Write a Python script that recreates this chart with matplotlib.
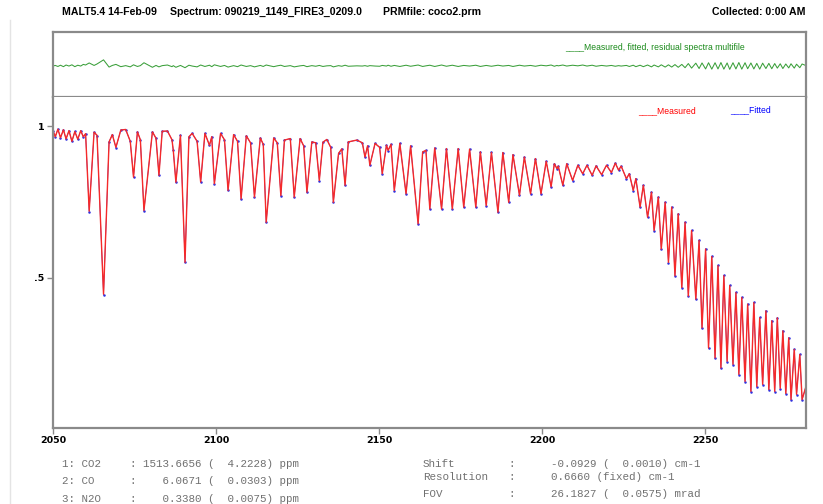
import numpy as np
import matplotlib
matplotlib.use('Agg')
import matplotlib.pyplot as plt
from matplotlib.lines import Line2D

# spectrum trace: wavenumber (cm-1) and transmission
wavenumber = [2050.0, 2050.7, 2051.5, 2052.3, 2053.2, 2054.0, 2054.9, 2055.8, 2056.7, 2057.6,
              2058.5, 2059.3, 2060.0, 2061.1, 2062.6, 2063.5, 2065.5, 2067.2, 2068.2, 2069.3,
              2070.8, 2072.3, 2073.7, 2074.7, 2075.9, 2076.8, 2077.9, 2080.5, 2081.6, 2082.5,
              2083.5, 2085.1, 2086.5, 2086.9, 2087.7, 2089.1, 2090.5, 2091.7, 2092.7, 2094.2,
              2095.3, 2096.6, 2098.0, 2098.7, 2099.5, 2101.4, 2102.6, 2103.7, 2105.4, 2106.6,
              2107.7, 2109.3, 2110.6, 2111.8, 2113.6, 2114.5, 2115.4, 2117.7, 2118.8, 2119.9,
              2121.0, 2122.8, 2124.0, 2125.8, 2126.9, 2127.9, 2129.4, 2130.6, 2131.7, 2132.8,
              2134.0, 2135.2, 2136.0, 2137.6, 2138.6, 2139.6, 2140.6, 2143.2, 2144.9, 2145.7,
              2146.5, 2147.2, 2148.8, 2150.2, 2151.0, 2152.3, 2152.8, 2153.7, 2154.7, 2156.4,
              2158.3, 2159.7, 2162.0, 2163.4, 2164.4, 2165.6, 2167.1, 2169.2, 2170.7, 2172.5,
              2174.3, 2176.0, 2177.8, 2179.7, 2181.1, 2182.9, 2184.5, 2186.5, 2188.0, 2189.8,
              2191.1, 2193.1, 2194.6, 2196.5, 2198.0, 2199.7, 2201.3, 2202.8, 2203.8, 2204.6,
              2205.0, 2206.4, 2207.6, 2209.4, 2211.0, 2212.5, 2213.8, 2215.4, 2216.6, 2218.3,
              2219.8, 2221.3, 2222.5, 2223.5, 2224.3, 2225.9, 2226.8, 2228.0, 2228.8, 2230.1,
              2231.1, 2232.4, 2233.6, 2234.4, 2235.7, 2236.6, 2237.8, 2238.8, 2239.8, 2240.8,
              2241.8, 2242.9, 2243.9, 2244.9, 2245.9, 2247.2, 2248.2, 2249.1, 2250.2, 2251.1,
              2252.1, 2253.1, 2254.0, 2254.9, 2255.8, 2256.8, 2257.6, 2258.6, 2259.5, 2260.4,
              2261.3, 2262.3, 2263.1, 2264.1, 2265.0, 2265.9, 2266.8, 2267.7, 2268.7, 2269.6,
              2270.5, 2271.4, 2272.2, 2273.1, 2273.9, 2274.8, 2275.7, 2276.4, 2277.4, 2278.1,
              2279.1, 2279.8, 2281.0]

measured = [0.985, 0.965, 0.990, 0.962, 0.988, 0.958, 0.985, 0.950, 0.982, 0.957,
            0.985, 0.965, 0.975, 0.720, 0.980, 0.970, 0.446, 0.948, 0.972, 0.930,
            0.987, 0.989, 0.950, 0.832, 0.981, 0.955, 0.722, 0.981, 0.960, 0.838,
            0.983, 0.984, 0.955, 0.920, 0.815, 0.970, 0.551, 0.965, 0.976, 0.950,
            0.816, 0.976, 0.937, 0.965, 0.810, 0.976, 0.955, 0.788, 0.972, 0.950,
            0.760, 0.968, 0.945, 0.766, 0.961, 0.940, 0.683, 0.961, 0.945, 0.771,
            0.954, 0.959, 0.766, 0.959, 0.935, 0.782, 0.948, 0.945, 0.821, 0.947,
            0.956, 0.930, 0.749, 0.910, 0.925, 0.805, 0.948, 0.954, 0.945, 0.898,
            0.935, 0.871, 0.943, 0.930, 0.843, 0.937, 0.920, 0.940, 0.788, 0.943,
            0.777, 0.935, 0.678, 0.915, 0.920, 0.727, 0.928, 0.727, 0.926, 0.727,
            0.926, 0.733, 0.924, 0.733, 0.915, 0.738, 0.913, 0.716, 0.913, 0.749,
            0.906, 0.772, 0.898, 0.777, 0.893, 0.777, 0.884, 0.800, 0.876, 0.860,
            0.868, 0.805, 0.876, 0.821, 0.871, 0.843, 0.871, 0.838, 0.869, 0.840,
            0.871, 0.847, 0.878, 0.855, 0.868, 0.827, 0.843, 0.788, 0.827, 0.733,
            0.805, 0.700, 0.782, 0.656, 0.766, 0.595, 0.749, 0.551, 0.733, 0.507,
            0.711, 0.468, 0.683, 0.440, 0.656, 0.430, 0.623, 0.335, 0.595, 0.269,
            0.570, 0.236, 0.540, 0.203, 0.507, 0.225, 0.474, 0.215, 0.451, 0.182,
            0.435, 0.159, 0.413, 0.126, 0.418, 0.142, 0.368, 0.149, 0.391, 0.132,
            0.358, 0.126, 0.368, 0.136, 0.325, 0.119, 0.302, 0.099, 0.264, 0.116,
            0.247, 0.099, 0.142]

# residual (measured - fitted), in units of 1e-3
residual = [0, 0.3, -0.2, 0.4, -0.3, 0.5, 0, 0.6, -0.3, 0.4,
            0, 0.8, 0.5, 1.5, 0.3, 1.0, 3.0, -0.5, 0.3, 0.8,
            -0.3, 0.2, -0.4, 0.6, -0.2, 0.2, 1.6, -0.6, 0.3, -0.4,
            0.2, 0.5, -0.3, 0.2, -0.6, 0.3, -0.8, 0.4, 0, -0.4,
            0.5, -0.2, 0.4, -0.3, 0.6, -0.2, 0.3, -0.5, 0.2, -0.3,
            0.5, -0.2, 0.2, -0.4, 0.3, -0.2, 0.5, -0.3, 0.1, 0.4,
            -0.2, 0.2, -0.4, 0.1, 0.3, -0.3, 0.2, -0.1, 0.3, -0.2,
            0.1, 0.2, -0.4, 0.2, -0.1, 0.4, -0.1, 0.1, 0, 0.2,
            -0.1, 0.2, 0, -0.1, 0.3, 0, 0.4, -0.1, 0.3, -0.2,
            0.4, -0.1, 0.5, -0.2, 0.1, 0.4, -0.2, 0.5, -0.1, 0.4,
            -0.2, 0.3, 0, 0.4, -0.2, 0.3, -0.1, 0.4, 0, 0.3,
            -0.2, 0.4, 0, 0.3, -0.1, 0.4, 0.1, 0.5, -0.1, 0.3,
            0.1, 0.5, 0, 0.4, 0.1, 0.5, 0, 0.4, -0.1, 0.3,
            0, 0.3, -0.1, 0.2, 0, 0.3, -0.2, 0.4, -0.3, 0.4,
            -0.3, 0.5, -0.4, 0.5, -0.4, 0.6, -0.5, 0.6, -0.5, 0.7,
            -0.6, 0.8, -0.8, 1.2, -1.0, 1.4, -1.2, 1.5, -1.4, 1.6,
            -1.5, 1.6, -1.4, 1.7, -1.5, 1.5, -1.6, 1.6, -1.4, 1.7,
            -1.5, 1.6, -1.3, 1.5, -1.4, 1.3, -1.5, 1.4, -1.2, 1.3,
            -1.3, 1.2, -1.0, 1.1, -1.2, 1.0, -0.9, 1.1, -1.0, 0.9,
            -0.8, 1.0, 0.2]

x_ticks = [2050, 2100, 2150, 2200, 2250]
y_ticks = [0.5, 1.0]
y_ticklabels = ['.5', '1']

header = ['MALT5.4 14-Feb-09', 'Spectrum: 090219_1149_FIRE3_0209.0',
          'PRMfile: coco2.prm', 'Collected: 0:00 AM']
gas_names = ['1: CO2', '2: CO', '3: N2O']
gas_values = [': 1513.6656 (  4.2228) ppm', ':    6.0671 (  0.0303) ppm',
              ':    0.3380 (  0.0075) ppm']
param_names = ['Shift', 'Resolution', 'FOV']
param_values = ['-0.0929 (  0.0010) cm-1', '0.6660 (fixed) cm-1',
                '26.1827 (  0.0575) mrad']

wn = np.array(wavenumber)
meas = np.array(measured)
res = np.array(residual) * 1e-3
fitted = meas - res

W, H = 823, 504
sans = 'Liberation Sans'
grey = '#8a8a8a'

fig = plt.figure(figsize=(W / 100, H / 100), dpi=100)

# residual panel
ax_res = fig.add_axes([53 / W, 1 - 97 / H, 753 / W, 65 / H])
ax_res.plot(wn, res, color='#3a9f3a', lw=0.75)
ax_res.set_xlim(2050, 2281)
ax_res.set_ylim(-0.015, 0.0165)
ax_res.set_xticks([])
ax_res.set_yticks([])
for s in ax_res.spines.values():
    s.set_color(grey)
    s.set_linewidth(1.6)
ax_res.text(0.68, 0.72, '____Measured, fitted, residual spectra multifile',
            transform=ax_res.transAxes, color='#1a8a1a', fontsize=6.2, family=sans)

# main spectrum panel: fitted points underneath, measured line on top
ax = fig.add_axes([53 / W, 1 - 428 / H, 753 / W, 331 / H])
ax.plot(wn, fitted, color='#3030e0', lw=0.5, marker='o', ms=1.8, mew=0)
ax.plot(wn, meas, color='#f52a2a', lw=1.0)
ax.set_xlim(2050, 2281)
ax.set_ylim(0.005, 1.096)
ax.set_xticks(x_ticks)
ax.set_xticklabels([str(t) for t in x_ticks], fontsize=6.8, fontweight='bold')
ax.set_yticks(y_ticks)
ax.set_yticklabels(y_ticklabels, fontsize=6.8, fontweight='bold')
ax.tick_params(axis='both', direction='out', length=4, width=1, color=grey, pad=2)
ax.spines['top'].set_visible(False)
for k in ['left', 'bottom', 'right']:
    ax.spines[k].set_color(grey)
    ax.spines[k].set_linewidth(1.6)
ax.text(0.777, 0.952, '____Measured', transform=ax.transAxes, color='#ff0000',
        fontsize=6.2, family=sans)
ax.text(0.899, 0.955, '____Fitted', transform=ax.transAxes, color='#0000ff',
        fontsize=6.2, family=sans)

# header line
hx = [62, 170, 383, 806]
for i, txt in enumerate(header):
    fig.text(hx[i] / W, 1 - 12 / H, txt, fontsize=7.6, fontweight='bold', family=sans,
             va='center', ha='right' if i == 3 else 'left')

# fit results below the plot
mono = 'Liberation Mono'
tcol = '#707070'
for i, yy in enumerate([464, 481.5, 499]):
    fig.text(62 / W, 1 - yy / H, gas_names[i], fontsize=7.8, family=mono, color=tcol, va='center')
    fig.text(130 / W, 1 - yy / H, gas_values[i], fontsize=7.8, family=mono, color=tcol, va='center')
for i, yy in enumerate([464, 476.5, 494]):
    fig.text(423 / W, 1 - yy / H, param_names[i], fontsize=7.8, family=mono, color=tcol, va='center')
    fig.text(508 / W, 1 - yy / H, ':', fontsize=7.8, family=mono, color=tcol, va='center')
    fig.text(551 / W, 1 - yy / H, param_values[i], fontsize=7.8, family=mono, color=tcol, va='center')

# faint window edge on the left
fig.add_artist(Line2D([10 / W, 10 / W], [0, 1 - 20 / H], color='#e4e4e4', lw=1))

fig.savefig('out.png', dpi=100)
